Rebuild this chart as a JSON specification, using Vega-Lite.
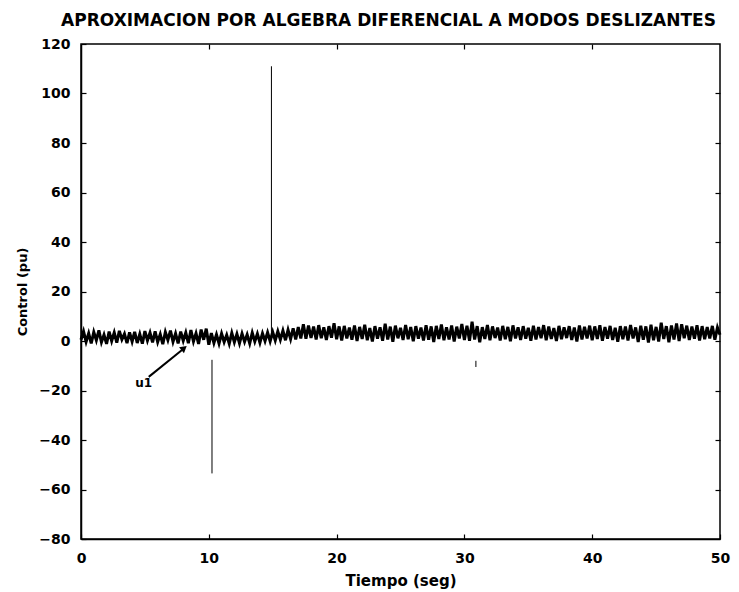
{
  "$schema": "https://vega.github.io/schema/vega-lite/v6.json",
  "width": 639,
  "height": 495,
  "autosize": "none",
  "padding": {"left": 81, "top": 44, "right": 19, "bottom": 53},
  "background": "white",
  "title": {
    "text": "APROXIMACION POR ALGEBRA DIFERENCIAL A MODOS DESLIZANTES",
    "font": "DejaVu Sans",
    "fontSize": 17,
    "fontWeight": "bold",
    "color": "black",
    "anchor": "middle",
    "offset": 7,
    "dx": -12
  },
  "config": {
    "view": {"stroke": "black", "strokeWidth": 1.5},
    "axis": {
      "domainColor": "black",
      "domainWidth": 1.5,
      "tickColor": "black",
      "tickWidth": 1.2,
      "tickSize": -5,
      "labelFont": "DejaVu Sans",
      "labelFontWeight": "bold",
      "labelFontSize": 14,
      "labelColor": "black",
      "labelFlush": false,
      "titleFont": "DejaVu Sans",
      "titleFontWeight": "bold",
      "titleColor": "black",
      "grid": false
    }
  },
  "datasets": {
    "u1": [
      {"t":0.0,"u":0.5},{"t":0.2,"u":3.9},{"t":0.4,"u":-0.3},{"t":0.6,"u":3.1},{"t":0.8,"u":-1.0},{"t":1.0,"u":3.6},{"t":1.2,"u":0.3},{"t":1.4,"u":4.3},{"t":1.6,"u":-0.5},{"t":1.8,"u":2.5},
      {"t":2.0,"u":-1.2},{"t":2.2,"u":3.8},{"t":2.4,"u":0.0},{"t":2.6,"u":3.4},{"t":2.8,"u":-0.7},{"t":3.0,"u":4.1},{"t":3.2,"u":0.6},{"t":3.4,"u":2.9},{"t":3.6,"u":-0.9},{"t":3.8,"u":3.5},
      {"t":4.0,"u":-0.2},{"t":4.2,"u":3.7},{"t":4.4,"u":-0.8},{"t":4.6,"u":2.8},{"t":4.8,"u":-1.1},{"t":5.0,"u":4.0},{"t":5.2,"u":0.2},{"t":5.4,"u":3.3},{"t":5.6,"u":-0.6},{"t":5.8,"u":3.9},
      {"t":6.0,"u":-0.4},{"t":6.2,"u":2.7},{"t":6.4,"u":-1.3},{"t":6.6,"u":3.6},{"t":6.8,"u":0.4},{"t":7.0,"u":4.2},{"t":7.2,"u":-0.3},{"t":7.4,"u":3.0},{"t":7.6,"u":-1.0},{"t":7.8,"u":3.8},
      {"t":8.0,"u":0.1},{"t":8.2,"u":3.4},{"t":8.4,"u":-0.9},{"t":8.6,"u":4.4},{"t":8.8,"u":-0.2},{"t":9.0,"u":3.1},{"t":9.2,"u":-1.2},{"t":9.4,"u":4.6},{"t":9.6,"u":0.5},{"t":9.8,"u":5.0},
      {"t":10.0,"u":-1.5},{"t":10.2,"u":3.2},{"t":10.4,"u":-0.8},{"t":10.6,"u":2.6},{"t":10.8,"u":-1.0},{"t":11.0,"u":3.0},{"t":11.2,"u":-0.4},{"t":11.4,"u":2.4},{"t":11.6,"u":-1.1},{"t":11.8,"u":3.2},
      {"t":12.0,"u":-0.5},{"t":12.2,"u":2.8},{"t":12.4,"u":-0.9},{"t":12.6,"u":3.0},{"t":12.8,"u":-0.3},{"t":13.0,"u":2.6},{"t":13.2,"u":-1.0},{"t":13.4,"u":3.3},{"t":13.6,"u":-0.2},{"t":13.8,"u":2.9},
      {"t":14.0,"u":-0.7},{"t":14.2,"u":3.1},{"t":14.4,"u":0.0},{"t":14.6,"u":3.4},{"t":14.8,"u":-0.1},
      {"t":15.0,"u":3.6},{"t":15.2,"u":0.2},{"t":15.4,"u":3.9},{"t":15.6,"u":0.5},{"t":15.8,"u":4.2},{"t":16.0,"u":0.3},{"t":16.2,"u":4.5},{"t":16.4,"u":0.8},{"t":16.6,"u":5.1},{"t":16.8,"u":0.6},
      {"t":17.0,"u":5.6},{"t":17.2,"u":1.0},{"t":17.4,"u":6.8},{"t":17.6,"u":0.9},{"t":17.8,"u":6.2},{"t":18.0,"u":1.2},{"t":18.2,"u":5.8},{"t":18.4,"u":0.6},{"t":18.6,"u":6.4},{"t":18.8,"u":1.1},
      {"t":19.0,"u":5.5},{"t":19.2,"u":0.4},{"t":19.4,"u":6.0},{"t":19.6,"u":1.3},{"t":19.8,"u":7.2},{"t":20.0,"u":0.7},{"t":20.2,"u":5.9},{"t":20.4,"u":0.2},{"t":20.6,"u":6.1},{"t":20.8,"u":1.0},
      {"t":21.0,"u":5.4},{"t":21.2,"u":0.5},{"t":21.4,"u":6.3},{"t":21.6,"u":0.0},{"t":21.8,"u":5.7},{"t":22.0,"u":0.8},{"t":22.2,"u":6.6},{"t":22.4,"u":0.3},{"t":22.6,"u":5.2},{"t":22.8,"u":-0.2},
      {"t":23.0,"u":6.0},{"t":23.2,"u":0.9},{"t":23.4,"u":5.5},{"t":23.6,"u":0.1},{"t":23.8,"u":7.0},{"t":24.0,"u":0.6},{"t":24.2,"u":5.8},{"t":24.4,"u":-0.3},{"t":24.6,"u":6.2},{"t":24.8,"u":1.1},
      {"t":25.0,"u":5.3},{"t":25.2,"u":0.4},{"t":25.4,"u":6.5},{"t":25.6,"u":0.7},{"t":25.8,"u":5.6},{"t":26.0,"u":-0.1},{"t":26.2,"u":6.0},{"t":26.4,"u":0.9},{"t":26.6,"u":5.4},{"t":26.8,"u":0.2},
      {"t":27.0,"u":6.4},{"t":27.2,"u":0.5},{"t":27.4,"u":5.9},{"t":27.6,"u":-0.4},{"t":27.8,"u":6.1},{"t":28.0,"u":0.8},{"t":28.2,"u":6.7},{"t":28.4,"u":0.3},{"t":28.6,"u":5.5},{"t":28.8,"u":0.6},
      {"t":29.0,"u":6.3},{"t":29.2,"u":-0.2},{"t":29.4,"u":5.8},{"t":29.6,"u":1.0},{"t":29.8,"u":6.9},{"t":30.0,"u":0.4},{"t":30.2,"u":6.2},{"t":30.4,"u":0.1},{"t":30.6,"u":7.8},{"t":30.8,"u":0.6},
      {"t":31.0,"u":6.0},{"t":31.2,"u":-0.5},{"t":31.4,"u":5.6},{"t":31.6,"u":0.8},{"t":31.8,"u":6.5},{"t":32.0,"u":0.3},{"t":32.2,"u":5.9},{"t":32.4,"u":1.2},{"t":32.6,"u":5.4},{"t":32.8,"u":0.2},
      {"t":33.0,"u":6.1},{"t":33.2,"u":0.7},{"t":33.4,"u":5.7},{"t":33.6,"u":-0.1},{"t":33.8,"u":6.3},{"t":34.0,"u":1.0},{"t":34.2,"u":5.5},{"t":34.4,"u":0.4},{"t":34.6,"u":6.0},{"t":34.8,"u":0.9},
      {"t":35.0,"u":5.3},{"t":35.2,"u":0.1},{"t":35.4,"u":6.2},{"t":35.6,"u":0.6},{"t":35.8,"u":5.6},{"t":36.0,"u":1.1},{"t":36.2,"u":6.4},{"t":36.4,"u":0.3},{"t":36.6,"u":5.8},{"t":36.8,"u":0.8},
      {"t":37.0,"u":5.2},{"t":37.2,"u":0.0},{"t":37.4,"u":6.1},{"t":37.6,"u":0.7},{"t":37.8,"u":5.5},{"t":38.0,"u":1.2},{"t":38.2,"u":6.0},{"t":38.4,"u":0.4},{"t":38.6,"u":5.4},{"t":38.8,"u":-0.2},
      {"t":39.0,"u":6.3},{"t":39.2,"u":0.6},{"t":39.4,"u":5.7},{"t":39.6,"u":1.0},{"t":39.8,"u":6.2},{"t":40.0,"u":0.3},{"t":40.2,"u":5.9},{"t":40.4,"u":0.8},{"t":40.6,"u":6.4},{"t":40.8,"u":0.1},
      {"t":41.0,"u":5.6},{"t":41.2,"u":0.9},{"t":41.4,"u":6.1},{"t":41.6,"u":0.4},{"t":41.8,"u":5.3},{"t":42.0,"u":-0.3},{"t":42.2,"u":6.0},{"t":42.4,"u":0.7},{"t":42.6,"u":5.8},{"t":42.8,"u":0.2},
      {"t":43.0,"u":6.5},{"t":43.2,"u":1.0},{"t":43.4,"u":5.5},{"t":43.6,"u":-0.4},{"t":43.8,"u":6.2},{"t":44.0,"u":0.5},{"t":44.2,"u":5.9},{"t":44.4,"u":-0.6},{"t":44.6,"u":6.6},{"t":44.8,"u":0.3},
      {"t":45.0,"u":5.7},{"t":45.2,"u":-0.2},{"t":45.4,"u":7.4},{"t":45.6,"u":0.8},{"t":45.8,"u":6.0},{"t":46.0,"u":-0.5},{"t":46.2,"u":6.3},{"t":46.4,"u":0.6},{"t":46.6,"u":7.1},{"t":46.8,"u":0.0},
      {"t":47.0,"u":6.8},{"t":47.2,"u":1.1},{"t":47.4,"u":6.2},{"t":47.6,"u":0.4},{"t":47.8,"u":5.8},{"t":48.0,"u":0.9},{"t":48.2,"u":6.4},{"t":48.4,"u":0.2},{"t":48.6,"u":6.0},{"t":48.8,"u":0.7},
      {"t":49.0,"u":5.6},{"t":49.2,"u":1.0},{"t":49.4,"u":6.1},{"t":49.6,"u":0.5},{"t":49.8,"u":5.4},{"t":50.0,"u":2.5}
    ],
    "spikes": [
      {"t": 14.9, "u": 2, "u2": 111},
      {"t": 10.25, "u": -7.6, "u2": -53.5},
      {"t": 30.9, "u": -8, "u2": -10.5}
    ],
    "arrow": [
      {"t": 5.3, "u": -14.5, "t2": 8.0, "u2": -3.2}
    ],
    "head": [
      {"t": 8.0, "u": -3.2}
    ],
    "label": [
      {"t": 4.9, "u": -17, "text": "u1"}
    ]
  },
  "layer": [
    {
      "data": {"name": "u1"},
      "mark": {"type": "line", "color": "black", "strokeWidth": 3},
      "encoding": {
        "x": {"field": "t", "type": "quantitative", "scale": {"domain": [0, 50], "nice": false},
              "axis": {"orient": "bottom", "values": [0, 10, 20, 30, 40, 50], "title": "Tiempo (seg)", "titleFontSize": 15, "titlePadding": 8, "labelPadding": 17}},
        "y": {"field": "u", "type": "quantitative", "scale": {"domain": [-80, 120], "nice": false},
              "axis": {"orient": "left", "values": [-80, -60, -40, -20, 0, 20, 40, 60, 80, 100, 120], "title": "Control (pu)", "titleFontSize": 13, "titlePadding": 9, "labelPadding": 16}}
      }
    },
    {
      "data": {"name": "spikes"},
      "mark": {"type": "rule", "color": "black", "strokeWidth": 1},
      "encoding": {
        "x": {"field": "t", "type": "quantitative",
              "axis": {"orient": "top", "values": [10, 20, 30, 40], "labels": false, "title": null, "domain": false}},
        "y": {"field": "u", "type": "quantitative",
              "axis": {"orient": "right", "values": [-60, -40, -20, 0, 20, 40, 60, 80, 100], "labels": false, "title": null, "domain": false}},
        "y2": {"field": "u2"}
      }
    },
    {
      "data": {"name": "arrow"},
      "mark": {"type": "rule", "color": "black", "strokeWidth": 2},
      "encoding": {
        "x": {"field": "t", "type": "quantitative", "axis": null},
        "y": {"field": "u", "type": "quantitative", "axis": null},
        "x2": {"field": "t2"},
        "y2": {"field": "u2"}
      }
    },
    {
      "data": {"name": "head"},
      "mark": {"type": "point", "shape": "triangle", "filled": true, "color": "black", "opacity": 1, "size": 60, "angle": 51},
      "encoding": {
        "x": {"field": "t", "type": "quantitative", "axis": null},
        "y": {"field": "u", "type": "quantitative", "axis": null}
      }
    },
    {
      "data": {"name": "label"},
      "mark": {"type": "text", "font": "DejaVu Sans", "fontWeight": "bold", "fontSize": 12, "color": "black", "align": "center", "baseline": "middle"},
      "encoding": {
        "x": {"field": "t", "type": "quantitative", "axis": null},
        "y": {"field": "u", "type": "quantitative", "axis": null},
        "text": {"field": "text"}
      }
    }
  ],
  "resolve": {"axis": {"x": "independent", "y": "independent"}}
}
